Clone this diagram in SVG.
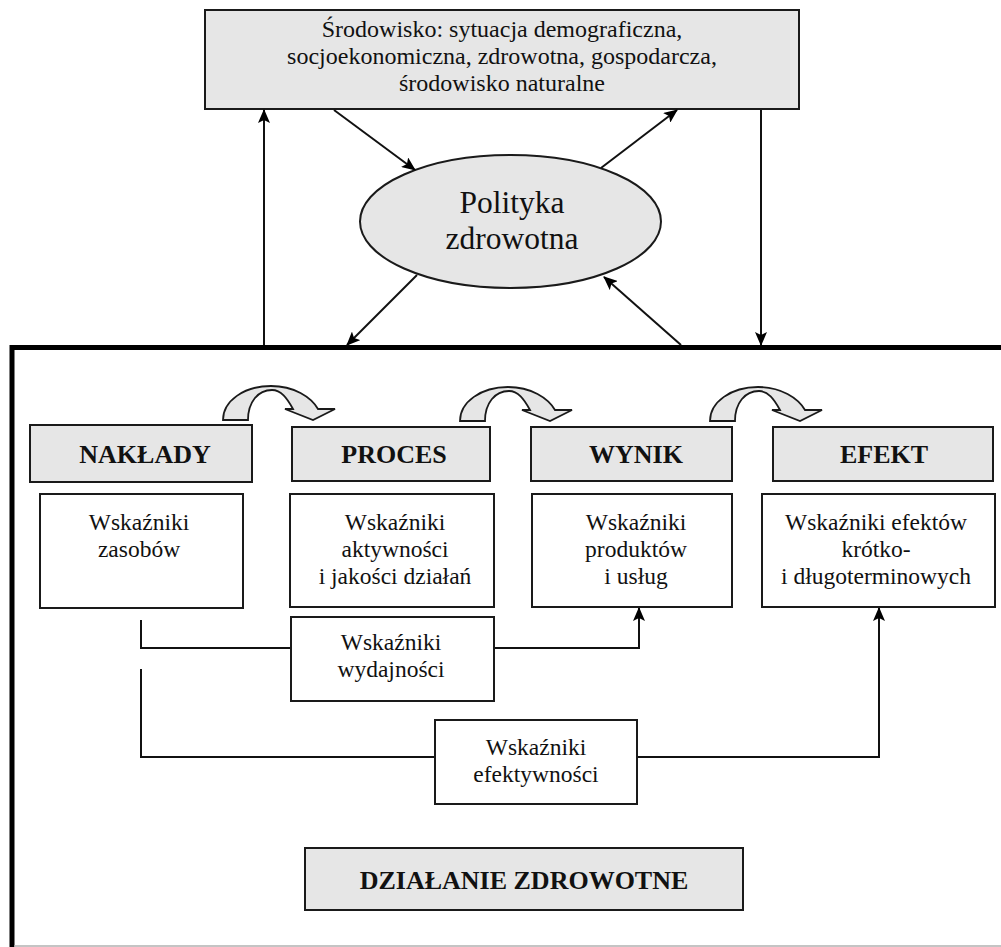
<svg xmlns="http://www.w3.org/2000/svg" xmlns:xlink="http://www.w3.org/1999/xlink" width="1001" height="947" viewBox="0 0 1001 947">
<style>
.box{fill:#fff;stroke:#1a1a1a;stroke-width:2}
.gbox{fill:#e6e6e6;stroke:#1a1a1a;stroke-width:2}
.t{font-family:"Liberation Serif","Times New Roman",serif;fill:#111;text-anchor:middle}
.r{font-size:23.5px}
.h{font-size:26px;font-weight:bold}
.c{fill:none;stroke:#111;stroke-width:2}
.frame{fill:none;stroke:#000;stroke-width:5}
.curve{fill:#e6e6e6;stroke:#1a1a1a;stroke-width:1.8;stroke-linejoin:miter}
</style>
<defs>
<marker id="ah" markerUnits="userSpaceOnUse" markerWidth="14" markerHeight="12" refX="13" refY="6" orient="auto">
<path d="M0,0 L14,6 L0,12 L3,6 Z" fill="#000"/>
</marker>
<path id="carrow" d="M223,420 C223,401 244,386 271,386 C294,386 311,397 318,409 L335,409 L313,420 L285,409 L293,409 C287,398 281,390 272,390 C258,390 248,402 248,420 Z"/>
</defs>
<rect width="1001" height="947" fill="#fff"/>

<g id="frame">
<path class="frame" d="M12,947 V347.5 H1001"/>
<line x1="14" y1="946" x2="1001" y2="946" stroke="#b0b0b0" stroke-width="1.5"/>
</g>

<g id="srodowisko">
<rect class="gbox" x="205" y="10" width="594" height="99"/>
<text class="t" font-size="24" x="502" y="37">Środowisko: sytuacja demograficzna,</text>
<text class="t" font-size="24" x="502" y="64">socjoekonomiczna, zdrowotna, gospodarcza,</text>
<text class="t" font-size="24" x="502" y="91">środowisko naturalne</text>
</g>

<g id="polityka">
<ellipse cx="510.5" cy="221.5" rx="150.5" ry="66.5" fill="#e6e6e6" stroke="#1a1a1a" stroke-width="2"/>
<text class="t" font-size="31.5" x="512" y="213">Polityka</text>
<text class="t" font-size="31.5" x="512" y="249">zdrowotna</text>
</g>

<g id="connectors">
<line class="c" x1="264" y1="345" x2="264" y2="110" marker-end="url(#ah)"/>
<line class="c" x1="761" y1="110" x2="761" y2="345" marker-end="url(#ah)"/>
<line class="c" x1="334" y1="110" x2="415" y2="170" marker-end="url(#ah)"/>
<line class="c" x1="601" y1="168" x2="677" y2="110" marker-end="url(#ah)"/>
<line class="c" x1="417" y1="275" x2="347" y2="345" marker-end="url(#ah)"/>
<line class="c" x1="681" y1="345" x2="604" y2="277" marker-end="url(#ah)"/>
<use xlink:href="#carrow" class="curve"/>
<use xlink:href="#carrow" class="curve" transform="translate(237,1)"/>
<use xlink:href="#carrow" class="curve" transform="translate(487,1)"/>
<path class="c" d="M141,620 V648 H291"/>
<path class="c" d="M494,648 H639 V608" marker-end="url(#ah)"/>
<path class="c" d="M141,669 V757 H435"/>
<path class="c" d="M637,757 H879 V608" marker-end="url(#ah)"/>
</g>

<g id="naklady">
<rect class="gbox" x="30" y="425" width="222" height="57"/>
<text class="t h" x="145" y="463">NAKŁADY</text>
</g>
<g id="proces">
<rect class="gbox" x="292" y="427" width="198" height="54"/>
<text class="t h" x="394" y="463">PROCES</text>
</g>
<g id="wynik">
<rect class="gbox" x="531" y="427" width="201" height="54"/>
<text class="t h" x="636" y="463">WYNIK</text>
</g>
<g id="efekt">
<rect class="gbox" x="773" y="427" width="220" height="54"/>
<text class="t h" x="884" y="463">EFEKT</text>
</g>

<g id="zasoby">
<rect class="box" x="40" y="494" width="203" height="114"/>
<text class="t r" x="139" y="530">Wskaźniki</text>
<text class="t r" x="139" y="557">zasobów</text>
</g>
<g id="aktywnosc">
<rect class="box" x="290" y="494" width="204" height="113"/>
<text class="t r" x="395" y="530">Wskaźniki</text>
<text class="t r" x="395" y="557">aktywności</text>
<text class="t r" x="395" y="584">i jakości działań</text>
</g>
<g id="produkty">
<rect class="box" x="532" y="494" width="200" height="113"/>
<text class="t r" x="636" y="530">Wskaźniki</text>
<text class="t r" x="636" y="557">produktów</text>
<text class="t r" x="636" y="584">i usług</text>
</g>
<g id="efekty">
<rect class="box" x="762" y="494" width="233" height="113"/>
<text class="t r" x="876" y="530">Wskaźniki efektów</text>
<text class="t r" x="876" y="557">krótko-</text>
<text class="t r" x="876" y="584">i długoterminowych</text>
</g>

<g id="wydajnosc">
<rect class="box" x="291" y="617" width="203" height="84"/>
<text class="t r" x="391" y="650">Wskaźniki</text>
<text class="t r" x="391" y="677">wydajności</text>
</g>
<g id="efektywnosc">
<rect class="box" x="435" y="720" width="202" height="84"/>
<text class="t r" x="536" y="755">Wskaźniki</text>
<text class="t r" x="536" y="782">efektywności</text>
</g>

<g id="dzialanie">
<rect class="gbox" x="305" y="848" width="438" height="62"/>
<text class="t h" x="524" y="889">DZIAŁANIE ZDROWOTNE</text>
</g>
</svg>
